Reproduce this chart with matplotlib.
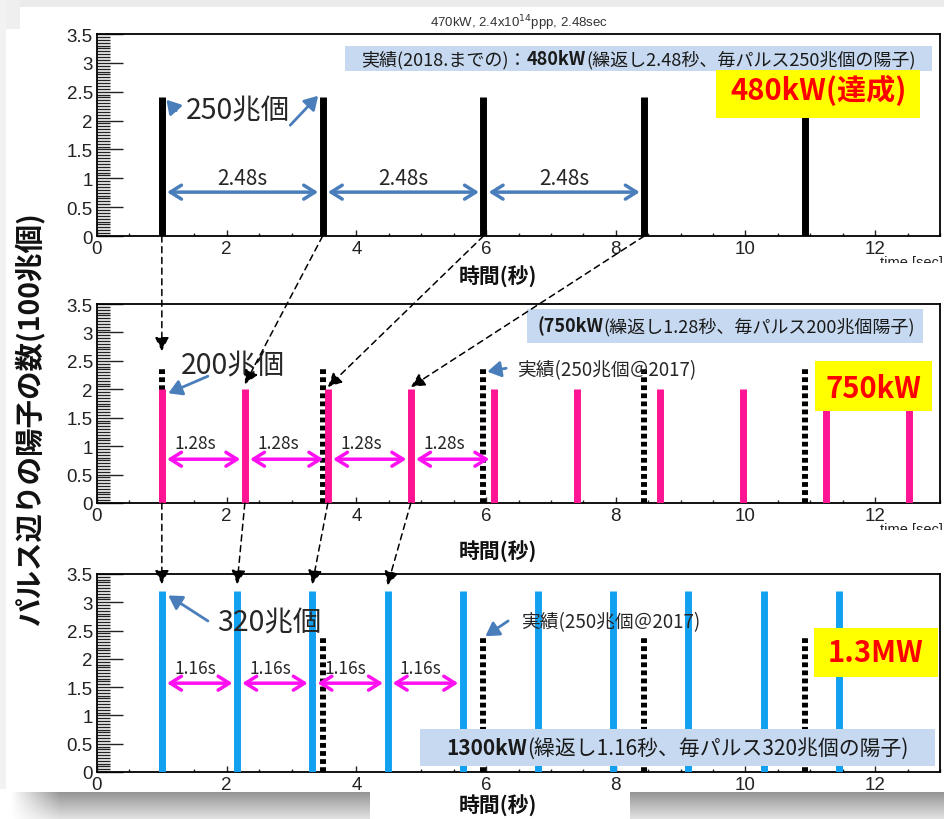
import matplotlib
matplotlib.use('Agg')
import matplotlib.pyplot as plt
import numpy as np
from matplotlib.patches import Rectangle, ConnectionPatch
from matplotlib.offsetbox import TextArea, HPacker, AnnotationBbox
from matplotlib.ticker import MultipleLocator, FuncFormatter

plt.rcParams['font.family'] = ['Liberation Sans', 'Noto Sans CJK JP', 'DejaVu Sans']
JP = ['Noto Sans CJK JP', 'DejaVu Sans']

# pulse trains (time in s, protons per pulse in 100 trillion)
pulse_480 = [1.0, 3.48, 5.96, 8.44, 10.92]
height_480 = 2.4
pulse_750 = [1.0, 2.28, 3.56, 4.84, 6.12, 7.40, 8.68, 9.96, 11.24, 12.52]
height_750 = 2.0
pulse_1300 = [1.0, 2.16, 3.32, 4.48, 5.64, 6.80, 7.96, 9.12, 10.28, 11.44]
height_1300 = 3.2

# interval arrows: number of arrows, label, arrow y, label y
int_480 = (3, '2.48s', 0.76, 1.0)
int_750 = (4, '1.28s', 0.77, 1.05)
int_1300 = (4, '1.16s', 1.57, 1.83)

# dashed links between panels: (x from, x to, y to)
links_top_mid = [(1.0, 1.0, 2.67), (3.48, 2.28, 2.09), (5.96, 3.56, 2.04), (8.44, 4.84, 2.04)]
links_mid_bot = [(1.0, 1.0, 3.32), (2.28, 2.16, 3.32), (3.56, 3.32, 3.32), (4.84, 4.48, 3.30)]

PINK = '#ff1493'
BLUE = '#12a0f0'
MAGENTA = '#ff10f0'
STEEL = '#4a7ebb'
BOXBLUE = '#c6d9f0'
TXT = '#262626'

fig = plt.figure(figsize=(9.44, 8.2), dpi=100)
fig.patch.set_facecolor('white')

L, W = 97 / 944, 843 / 944
ax1 = fig.add_axes([L, 1 - 237 / 820, W, 202 / 820])
ax2 = fig.add_axes([L, 1 - 504 / 820, W, 199 / 820])
ax3 = fig.add_axes([L, 1 - 773 / 820, W, 198 / 820])


def style_axis(ax):
    ax.set_xlim(0, 13)
    ax.set_ylim(0, 3.5)
    ax.xaxis.set_major_locator(MultipleLocator(2))
    ax.xaxis.set_minor_locator(MultipleLocator(0.5))
    ax.yaxis.set_major_locator(MultipleLocator(0.5))
    ax.yaxis.set_minor_locator(MultipleLocator(0.05))
    ax.yaxis.set_major_formatter(FuncFormatter(lambda v, p: f'{v:g}'))
    ax.tick_params(which='both', direction='in', top=False, right=False,
                   labelsize=13.5, colors='#222222')
    ax.tick_params(axis='y', which='major', length=19, width=1, pad=3)
    ax.tick_params(axis='y', which='minor', length=9.5, width=1)
    ax.tick_params(axis='x', which='major', length=4.5, width=1, pad=3)
    ax.tick_params(axis='x', which='minor', length=2.2, width=1)
    for s in ax.spines.values():
        s.set_linewidth(1.3)


def intervals(ax, xs, spec, color, fs, dx=0.0):
    n, lab, ya, yl = spec
    for i in range(n):
        ax.annotate('', xy=(xs[i + 1] - 0.07, ya), xytext=(xs[i] + 0.08, ya),
                    arrowprops=dict(arrowstyle='<->,head_length=0.4,head_width=0.25',
                                    color=color, lw=2.5, shrinkA=0, shrinkB=0,
                                    mutation_scale=20), zorder=4)
        ax.text((xs[i] + xs[i + 1]) / 2 + dx, yl, lab, ha='center', va='center',
                fontsize=fs, family=JP, color=TXT, zorder=4)


def pointer(ax, tail, head):
    ax.annotate('', xy=head, xytext=tail,
                arrowprops=dict(arrowstyle='-|>,head_length=0.5,head_width=0.3',
                                color=STEEL, lw=2, shrinkA=0, shrinkB=0,
                                mutation_scale=16), zorder=6)


def box(ax, x0, y0, w, h, fc):
    ax.add_patch(Rectangle((x0, y0), w, h, facecolor=fc, edgecolor='none',
                           zorder=5, clip_on=False))


def mixed_text(ax, parts, fs, cx, cy):
    areas = [TextArea(t, textprops=dict(fontsize=fs, fontweight=wt, family=JP, color='#1a1a1a'))
             for t, wt in parts]
    pack = HPacker(children=areas, pad=0, sep=0, align='baseline')
    ab = AnnotationBbox(pack, (cx, cy), xycoords='data', frameon=False,
                        box_alignment=(0.5, 0.5), annotation_clip=False, zorder=6)
    ax.add_artist(ab)


dots = [(0, (0.8, 0.55))]

# ---- top: 480 kW
style_axis(ax1)
ax1.vlines(pulse_480, 0, height_480, color='black', lw=5, zorder=3)
intervals(ax1, pulse_480, int_480, STEEL, 15)
ax1.text(2.17, 2.17, '250兆個', ha='center', va='center', fontsize=20.5, family=JP, color=TXT)
pointer(ax1, (1.22, 2.17), (1.07, 2.36))
pointer(ax1, (2.98, 1.92), (3.41, 2.43))
box(ax1, 3.83, 2.86, 9.05, 0.43, BOXBLUE)
mixed_text(ax1, [('実績(2018.までの)：', 'normal'), ('480kW', 'bold'),
                 ('(繰返し2.48秒、毎パルス250兆個の陽子)', 'normal')], 13, 8.35, 3.075)
box(ax1, 9.55, 2.04, 3.14, 0.84, '#ffff00')
ax1.text(11.12, 2.53, '480kW(達成)', ha='center', va='center', fontsize=21,
         fontweight='bold', family=JP, color='#ff0000', zorder=6)

# ---- middle: 750 kW
style_axis(ax2)
ax2.vlines(pulse_480, 0, height_480, color='black', lw=4.3, linestyles=dots, zorder=2)
ax2.vlines(pulse_750, 0, height_750, color=PINK, lw=5, zorder=3)
intervals(ax2, pulse_750, int_750, MAGENTA, 12.5, dx=-0.12)
ax2.text(2.1, 2.42, '200兆個', ha='center', va='center', fontsize=20.5, family=JP, color=TXT)
pointer(ax2, (1.71, 2.23), (1.1, 1.93))
ax2.text(6.48, 2.35, '実績(250兆個＠2017)', ha='left', va='center', fontsize=13.5,
         family=JP, color=TXT)
pointer(ax2, (6.31, 2.37), (6.02, 2.31))
box(ax2, 6.63, 2.82, 6.11, 0.6, BOXBLUE)
mixed_text(ax2, [('(750kW', 'bold'), ('(繰返し1.28秒、毎パルス200兆個陽子)', 'normal')],
           13, 9.7, 3.12)
box(ax2, 11.08, 1.61, 1.8, 0.88, '#ffff00')
ax2.text(11.98, 2.03, '750kW', ha='center', va='center', fontsize=21,
         fontweight='bold', family=JP, color='#ff0000', zorder=6)

# ---- bottom: 1.3 MW
style_axis(ax3)
ax3.vlines(pulse_480, 0, height_480, color='black', lw=4.3, linestyles=dots, zorder=2)
ax3.vlines(pulse_1300, 0, height_1300, color=BLUE, lw=5, zorder=3)
intervals(ax3, pulse_1300, int_1300, MAGENTA, 12.5, dx=-0.07)
ax3.text(2.65, 2.65, '320兆個', ha='center', va='center', fontsize=20.5, family=JP, color=TXT)
pointer(ax3, (1.71, 2.67), (1.1, 3.12))
ax3.text(6.54, 2.65, '実績(250兆個＠2017)', ha='left', va='center', fontsize=13.5,
         family=JP, color=TXT)
pointer(ax3, (6.34, 2.67), (5.99, 2.40))
box(ax3, 4.98, 0.106, 7.95, 0.654, BOXBLUE)
mixed_text(ax3, [('1300kW', 'bold'), ('(繰返し1.16秒、毎パルス320兆個の陽子)', 'normal')],
           15, 8.95, 0.43)
box(ax3, 11.06, 1.68, 1.91, 0.86, '#ffff00')
ax3.text(12.0, 2.12, '1.3MW', ha='center', va='center', fontsize=21,
         fontweight='bold', family=JP, color='#ff0000', zorder=6)

# dashed links between panels
for axa, axb, links in [(ax1, ax2, links_top_mid), (ax2, ax3, links_mid_bot)]:
    for xa, xb, yb in links:
        con = ConnectionPatch(xyA=(xa, 0), coordsA='data', axesA=axa,
                              xyB=(xb, yb), coordsB='data', axesB=axb,
                              arrowstyle='-|>,head_length=0.6,head_width=0.3',
                              linestyle=(0, (4, 3)), color='black', lw=1.1,
                              mutation_scale=14, shrinkA=0, shrinkB=0, zorder=8)
        fig.add_artist(con)

# figure texts
fig.text(0.55, 1 - 23 / 820, r'470kW, 2.4x10$^{14}$ppp, 2.48sec', ha='center', va='center',
         fontsize=9.5, color='#333333')
fig.text(29 / 944, 0.489, 'パルス辺りの陽子の数(100兆個)', rotation=90, ha='center',
         va='center', fontsize=20.5, fontweight='bold', family=JP, color='#111111')
for yy in [277, 552, 806]:
    fig.text(498 / 944, 1 - yy / 820, '時間(秒)', ha='center', va='center', fontsize=15,
             fontweight='bold', family=JP, color='#111111', zorder=10)
for yy in [256, 523]:
    fig.text(0.999, 1 - yy / 820, 'time [sec]', ha='right', va='top', fontsize=10.5,
             color='#222222')
    fig.add_artist(Rectangle((850 / 944, 1 - (yy + 22) / 820), 94 / 944, 14 / 820,
                             transform=fig.transFigure, facecolor='white',
                             edgecolor='none', zorder=9))

# screenshot border / shadow
for rect in [(0, 1 - 8 / 820, 1, 8 / 820, '#ebebeb'),
             (0, 1 - 30 / 820, 20 / 944, 30 / 820, '#efefef'),
             (0, 0, 6 / 944, 1, '#f2f2f2')]:
    fig.add_artist(Rectangle(rect[:2], rect[2], rect[3], transform=fig.transFigure,
                             facecolor=rect[4], edgecolor='none', zorder=-5))

sh = fig.add_axes([0, 0, 1, 30 / 820], zorder=-1)
t = np.linspace(0, 1, 30)[:, None]
xx = np.linspace(0, 944, 944)[None, :]
shade = 0.55 + 0.33 * t
shade = np.where(t < 0.08, 1.0, shade)
fade = np.clip((xx - 10) / 50, 0, 1)
shade = 1 - (1 - shade) * fade
sh.imshow(shade, cmap='gray', vmin=0, vmax=1, aspect='auto', extent=[0, 944, 0, 30])
sh.add_patch(Rectangle((370, 0), 260, 30, facecolor='white', edgecolor='none'))
sh.set_xlim(0, 944)
sh.set_ylim(0, 30)
sh.axis('off')

fig.savefig('out.png', dpi=100)
